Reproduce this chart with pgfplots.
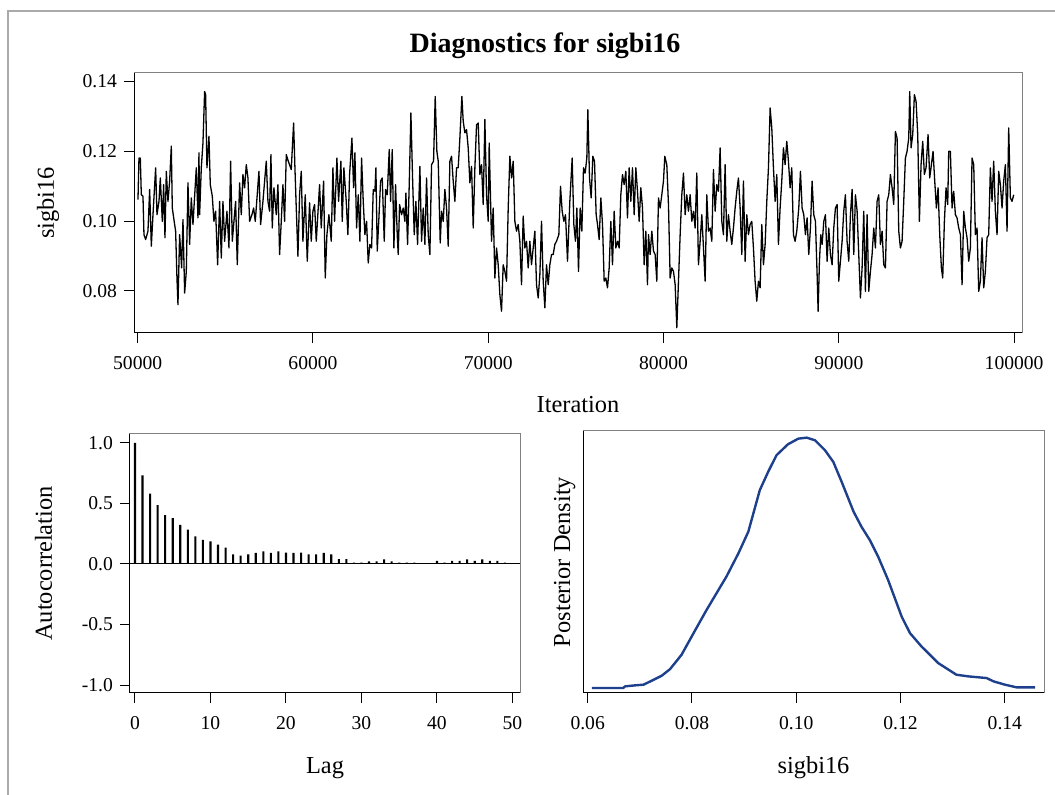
\documentclass[border=0pt]{standalone}
\usepackage{fontspec}
\setmainfont{Liberation Serif}
\usepackage{pgfplots}
\pgfplotsset{compat=1.18}
\definecolor{densblue}{RGB}{30,64,140}
\definecolor{framegray}{RGB}{128,128,128}
\definecolor{bordergray}{RGB}{170,170,170}
\pgfplotsset{diag/.style={
  scale only axis, clip mode=individual,
  axis line style={framegray, line width=0.5pt},
  tick align=outside, xtick pos=left, ytick pos=left,
  major tick length=5pt,
  major tick style={black, line width=0.5pt},
  tick label style={font=\fontsize{9.8}{11}\selectfont, text=black},
  label style={font=\fontsize{12.2}{14}\selectfont},
  xticklabel shift=3pt,
  scaled x ticks=false, scaled y ticks=false,
  /pgf/number format/assume math mode=true,
}}
\begin{document}
\begin{tikzpicture}
\path[use as bounding box] (0pt,0pt) rectangle (527.5pt,397.5pt);
\draw[bordergray, line width=0.6pt] (4pt,0pt) -- (4pt,392pt) -- (527.5pt,392pt);
\node[anchor=base, font=\fontsize{14}{16}\selectfont\bfseries] at (272.5pt,371pt) {Diagnostics for sigbi16};

% ---------- trace ----------
\begin{axis}[diag, at={(67pt,231pt)}, anchor=south west, width=444pt, height=130pt,
  xmin=49790, xmax=100450, ymin=0.068, ymax=0.1423,
  xtick={50000,60000,70000,80000,90000,100000},
  xticklabels={50000,60000,70000,80000,90000,100000},
  ytick={0.08,0.10,0.12,0.14}, yticklabels={0.08,0.10,0.12,0.14},
  xlabel={Iteration}, ylabel={sigbi16},
  xlabel style={at={(axis description cs:0.5,-0.3077)}, anchor=base},
  ylabel style={at={(axis description cs:-0.0901,0.5)}, anchor=base}]
\addplot[black, line width=0.65pt, line join=round] coordinates {
(50017,0.1061)(50074,0.1180)(50150,0.1180)(50207,0.1075)(50302,0.1071)(50359,0.0961)(50454,0.0947)(50587,0.0971)(50683,0.1090)(50778,0.0928)
(50873,0.1018)(51025,0.1152)(51101,0.1018)(51215,0.1056)(51291,0.1123)(51405,0.0999)(51481,0.1104)(51557,0.0952)(51633,0.1142)(51728,0.1056)
(51823,0.1114)(51918,0.1214)(51975,0.1037)(52108,0.0990)(52165,0.0971)(52241,0.0837)(52298,0.0761)(52393,0.0961)(52507,0.0866)(52584,0.1004)
(52679,0.0794)(52774,0.0856)(52869,0.1109)(52964,0.0933)(53059,0.1066)(53154,0.0990)(53344,0.1152)(53439,0.1009)(53496,0.1195)(53534,0.1018)
(53629,0.1152)(53724,0.1223)(53819,0.1370)(53876,0.1361)(53952,0.1152)(54066,0.1242)(54142,0.1104)(54256,0.1071)(54351,0.0999)(54446,0.1028)
(54561,0.0875)(54675,0.1056)(54770,0.0894)(54865,0.1056)(54960,0.0942)(55093,0.1028)(55207,0.0923)(55302,0.1171)(55397,0.0942)(55492,0.0999)
(55587,0.1056)(55682,0.0875)(55815,0.1109)(55910,0.1018)(56005,0.1133)(56100,0.1095)(56195,0.1161)(56290,0.1123)(56386,0.0999)(56519,0.1018)
(56614,0.1037)(56709,0.0999)(56918,0.1142)(57013,0.0990)(57146,0.1056)(57336,0.1171)(57431,0.1056)(57526,0.1028)(57602,0.1190)(57678,0.0980)
(57773,0.1095)(57906,0.1018)(58001,0.1104)(58096,0.0904)(58191,0.0999)(58287,0.1104)(58382,0.0999)(58477,0.1190)(58591,0.1171)(58762,0.1147)
(58895,0.1280)(58971,0.1152)(59047,0.1037)(59142,0.0899)(59237,0.1075)(59332,0.1142)(59427,0.0942)(59560,0.1075)(59674,0.0885)(59807,0.1052)
(59902,0.0942)(59997,0.1028)(60092,0.1047)(60188,0.0942)(60378,0.1104)(60473,0.0980)(60606,0.1114)(60701,0.0837)(60796,0.0961)(60910,0.1018)
(61043,0.0942)(61138,0.1152)(61233,0.0999)(61366,0.1180)(61461,0.1056)(61594,0.1171)(61670,0.0999)(61765,0.1152)(61898,0.1056)(61993,0.0961)
(62089,0.1133)(62222,0.1237)(62317,0.1095)
(62393,0.1195)(62488,0.0980)(62583,0.1075)(62678,0.0942)(62773,0.1180)(62868,0.1056)(62963,0.0961)(63058,0.0999)(63153,0.0880)(63248,0.0933)
(63344,0.0923)(63439,0.1090)(63534,0.1085)(63591,0.1152)(63667,0.0914)(63762,0.1009)(63857,0.1114)(63952,0.1123)(64066,0.0942)(64142,0.1090)
(64237,0.1075)(64351,0.1204)(64427,0.1056)(64522,0.1204)(64617,0.0923)(64712,0.1104)(64807,0.0961)(64864,0.0904)(64940,0.1047)(65054,0.1018)
(65149,0.1037)(65245,0.0999)(65302,0.1080)(65397,0.0933)(65492,0.1104)(65587,0.1309)(65682,0.1123)(65777,0.0961)(65872,0.1056)(65967,0.0933)
(66100,0.1156)(66195,0.0942)(66290,0.1037)(66385,0.0933)(66480,0.1123)(66575,0.0961)(66670,0.0904)(66765,0.1161)(66879,0.1171)(66974,0.1356)
(67069,0.1199)(67146,0.1171)(67260,0.0937)(67336,0.1028)(67431,0.0999)(67526,0.1090)(67621,0.1037)(67716,0.0928)(67811,0.1171)(67906,0.1185)
(68001,0.1114)(68096,0.1056)(68191,0.1152)(68286,0.1152)(68381,0.1237)(68495,0.1356)(68571,0.1285)(68666,0.1252)(68761,0.1261)(68856,0.1209)
(68952,0.1109)(69047,0.1156)(69142,0.0980)(69237,0.1152)(69332,0.1275)(69427,0.1280)(69522,0.1133)(69617,0.1161)(69712,0.1047)(69807,0.1290)
(69902,0.1075)(69997,0.0999)(70054,0.1223)(70187,0.0942)(70282,0.1037)(70377,0.0837)(70472,0.0923)(70567,0.0875)(70662,0.0790)(70757,0.0742)
(70852,0.0875)(70948,0.0856)(71043,0.0828)(71138,0.1037)(71233,0.1185)(71328,0.1123)(71423,0.1171)(71518,0.0999)(71613,0.0971)(71708,0.0990)
(71803,0.0942)(71898,0.0818)(71993,0.1014)(72088,0.0923)(72183,0.0942)(72278,0.0866)(72373,0.0942)(72468,0.0875)(72563,0.0923)(72658,0.0971)
(72753,0.0818)(72849,0.0780)(72944,0.0847)(73039,0.0999)(73134,0.0828)(73229,0.0752)(73324,0.0875)(73419,0.0818)(73514,0.0875)(73609,0.0904)
(73704,0.0904)(73799,0.0933)(73894,0.0942)(74027,0.0961)(74122,0.1099)(74217,0.1028)(74312,0.0999)(74407,0.1018)(74521,0.0885)(74654,0.1056)
(74787,0.1180)(74882,0.0990)(74977,0.0942)
(75054,0.1037)(75149,0.0856)(75244,0.1037)(75339,0.0971)(75434,0.1152)(75529,0.1137)(75624,0.1180)(75681,0.1318)(75776,0.1123)(75871,0.1066)
(75966,0.1185)(76061,0.1171)(76156,0.1018)(76233,0.0990)(76328,0.0947)(76423,0.1066)(76518,0.0990)(76613,0.0828)(76708,0.0837)(76803,0.0809)
(76898,0.0866)(76993,0.0999)(77088,0.0875)(77183,0.1028)(77278,0.0923)(77373,0.0942)(77468,0.0923)(77563,0.1075)(77658,0.1133)(77753,0.1104)
(77848,0.1142)(77943,0.1009)(78038,0.1152)(78133,0.1056)(78229,0.1152)(78324,0.1018)(78419,0.1152)(78514,0.1085)(78609,0.0999)(78704,0.1095)
(78799,0.1037)(78894,0.0875)(78989,0.0971)(79084,0.0818)(79141,0.0961)(79236,0.0904)(79331,0.0971)(79426,0.0914)(79521,0.0904)(79616,0.0828)
(79711,0.1066)(79806,0.1037)(79901,0.1075)(79996,0.1114)(80072,0.1185)(80186,0.1161)(80281,0.1047)(80377,0.0837)(80472,0.0866)(80567,0.0856)
(80662,0.0818)(80757,0.0695)(80852,0.0828)(80947,0.0961)(81042,0.1075)(81137,0.1137)(81232,0.1018)(81327,0.1075)(81422,0.1028)(81517,0.1075)
(81612,0.0999)(81707,0.1028)(81802,0.0980)(81897,0.1137)(81992,0.0875)(82087,0.0942)(82182,0.1018)(82278,0.0923)(82373,0.0828)(82468,0.1075)
(82563,0.0971)(82658,0.0980)(82753,0.0942)(82848,0.1147)(82943,0.1028)(83038,0.1104)(83133,0.1085)(83228,0.1209)(83323,0.0999)(83418,0.0961)
(83513,0.1161)(83608,0.0942)(83703,0.1018)(83798,0.0971)(83893,0.0933)(83988,0.0980)(84083,0.1037)(84179,0.1085)(84274,0.1123)(84369,0.1037)
(84464,0.0904)(84559,0.1114)(84654,0.0885)(84749,0.1018)(84844,0.0961)(84939,0.0990)(85034,0.0999)(85129,0.0923)(85224,0.0828)(85319,0.0771)
(85414,0.0828)(85510,0.0809)(85605,0.0990)(85700,0.0875)(85795,0.0933)(85890,0.1056)(85985,0.1152)(86080,0.1323)(86175,0.1266)(86270,0.1152)
(86365,0.1056)(86460,0.1133)(86555,0.0933)(86650,0.1037)(86745,0.1114)(86840,0.1209)(86935,0.1161)(87030,0.1228)(87125,0.1171)(87220,0.1095)
(87315,0.1152)(87411,0.0961)(87506,0.0942)(87601,0.0971)
(87715,0.1037)(87810,0.1142)(87905,0.1037)(88000,0.1018)(88095,0.0961)(88190,0.1009)(88285,0.0904)(88380,0.0980)(88475,0.1114)(88570,0.1018)
(88666,0.0999)(88761,0.0847)(88818,0.0742)(88894,0.0885)(88970,0.0961)(89046,0.0933)(89141,0.0999)(89236,0.1018)(89331,0.0885)(89426,0.0980)
(89521,0.0904)(89616,0.0875)(89711,0.0980)(89806,0.1037)(89901,0.1047)(89996,0.0828)(90091,0.0885)(90186,0.0942)(90281,0.1028)(90376,0.1075)
(90471,0.0942)(90567,0.0885)(90662,0.1018)(90757,0.1090)(90852,0.0904)(90947,0.1075)(91042,0.1028)(91137,0.0904)(91232,0.0780)(91327,0.0866)
(91422,0.1028)(91517,0.0799)(91612,0.1018)(91707,0.0799)(91802,0.0856)(91897,0.0904)(91992,0.0980)(92087,0.0923)(92182,0.1056)(92277,0.1075)
(92372,0.0933)(92468,0.0971)(92563,0.0875)(92658,0.0866)(92753,0.1056)(92848,0.1075)(92943,0.1133)(93038,0.1095)(93133,0.1047)(93228,0.1256)
(93323,0.1237)(93418,0.0971)(93513,0.0923)(93608,0.0942)(93703,0.1056)(93798,0.1180)(93893,0.1199)(93988,0.1237)(94045,0.1370)(94121,0.1209)
(94216,0.1247)(94311,0.1361)(94406,0.1342)(94501,0.1247)(94596,0.0999)(94691,0.1161)(94786,0.1228)(94881,0.1133)(94976,0.1152)(95090,0.1247)
(95185,0.1123)(95280,0.1161)(95375,0.1199)(95471,0.1114)(95566,0.1037)(95661,0.1095)(95756,0.0961)(95851,0.0866)(95927,0.0837)(96022,0.0999)
(96117,0.1095)(96212,0.1047)(96269,0.1199)(96364,0.1199)(96459,0.1037)(96554,0.1085)(96649,0.1018)(96744,0.1009)(96840,0.0980)(96935,0.0961)
(97030,0.0818)(97125,0.1028)(97220,0.0980)(97315,0.0952)(97410,0.0885)(97505,0.0923)(97600,0.1180)(97695,0.1161)(97790,0.0961)(97885,0.0980)
(97980,0.0799)(98075,0.0828)(98170,0.0952)(98265,0.0809)(98360,0.0856)(98455,0.0952)(98550,0.0961)(98645,0.1152)(98740,0.1056)(98835,0.1171)
(98930,0.1028)(99026,0.0961)(99121,0.1142)(99216,0.1104)(99311,0.1037)(99406,0.1114)(99501,0.1161)(99596,0.0971)(99691,0.1266)(99786,0.1066)
(99881,0.1056)(99976,0.1075)
};
\draw[black, line width=0.5pt] (rel axis cs:0,1) -- (rel axis cs:0,0) -- (rel axis cs:1,0);
\end{axis}

% ---------- autocorrelation ----------
\begin{axis}[diag, at={(65pt,51pt)}, anchor=south west, width=195pt, height=129.5pt,
  xmin=-0.66, xmax=51.0, ymin=-1.066, ymax=1.074,
  xtick={0,10,20,30,40,50}, xticklabels={0,10,20,30,40,50},
  ytick={-1,-0.5,0,0.5,1}, yticklabels={-1.0,-0.5,0.0,0.5,1.0},
  xlabel={Lag}, ylabel={Autocorrelation},
  xlabel style={at={(axis description cs:0.5,-0.309)}, anchor=base},
  ylabel style={at={(axis description cs:-0.2,0.5)}, anchor=base}]
\addplot[ybar, bar width=1.05pt, fill=black, draw=none] coordinates {
(0,1.000)(1,0.733)(2,0.582)(3,0.486)(4,0.404)(5,0.379)(6,0.324)(7,0.283)(8,0.228)(9,0.200)
(10,0.187)(11,0.159)(12,0.135)(13,0.080)(14,0.069)(15,0.080)(16,0.091)(17,0.104)(18,0.091)(19,0.104)
(20,0.093)(21,0.091)(22,0.093)(23,0.080)(24,0.080)(25,0.091)(26,0.080)(27,0.041)(28,0.041)(29,0.011)
(30,0.011)(31,0.022)(32,0.022)(33,0.038)(34,0.022)(35,0.011)(36,0.011)(37,0.011)(38,0.000)(39,0.000)
(40,0.025)(41,0.011)(42,0.025)(43,0.025)(44,0.038)(45,0.025)(46,0.038)(47,0.025)(48,0.025)(49,0.011)
};
\draw[black, line width=0.5pt] (axis cs:-0.66,0) -- (axis cs:51.0,0);
\draw[black, line width=0.5pt] (rel axis cs:0,1) -- (rel axis cs:0,0) -- (rel axis cs:1,0);
\end{axis}

% ---------- density ----------
\begin{axis}[diag, at={(291.5pt,51pt)}, anchor=south west, width=230.5pt, height=131pt,
  xmin=0.0591, xmax=0.1475, ymin=-0.717, ymax=36.95,
  xtick={0.06,0.08,0.10,0.12,0.14}, xticklabels={0.06,0.08,0.10,0.12,0.14},
  ytick=\empty,
  xlabel={sigbi16}, ylabel={Posterior Density},
  xlabel style={at={(axis description cs:0.5,-0.309)}, anchor=base},
  ylabel style={at={(axis description cs:-0.0282,0.5)}, anchor=base}]
\addplot[densblue, line width=1.2pt, line join=round] coordinates {
(0.0608,0)(0.0668,0)(0.0672,0.24)(0.0691,0.38)(0.0707,0.48)(0.0719,0.91)(0.0742,1.77)(0.0758,2.72)
(0.0780,4.78)(0.0803,7.89)(0.0828,11.23)(0.0847,13.62)(0.0866,16.01)(0.0889,19.36)(0.0908,22.47)
(0.0930,28.44)(0.0946,31.07)(0.0962,33.46)(0.0984,35.04)(0.1004,35.85)(0.1020,35.99)(0.1036,35.61)
(0.1055,34.18)(0.1071,32.50)(0.1087,29.64)(0.1110,25.33)(0.1125,23.18)(0.1141,21.27)(0.1157,18.88)
(0.1176,15.54)(0.1202,10.28)(0.1218,7.89)(0.1240,5.98)(0.1272,3.59)(0.1307,1.91)(0.1330,1.67)
(0.1365,1.43)(0.1378,0.96)(0.1400,0.48)(0.1422,0.10)(0.1458,0.10)
};
\draw[black, line width=0.5pt] (rel axis cs:0,1) -- (rel axis cs:0,0) -- (rel axis cs:1,0);
\end{axis}
\end{tikzpicture}
\end{document}
